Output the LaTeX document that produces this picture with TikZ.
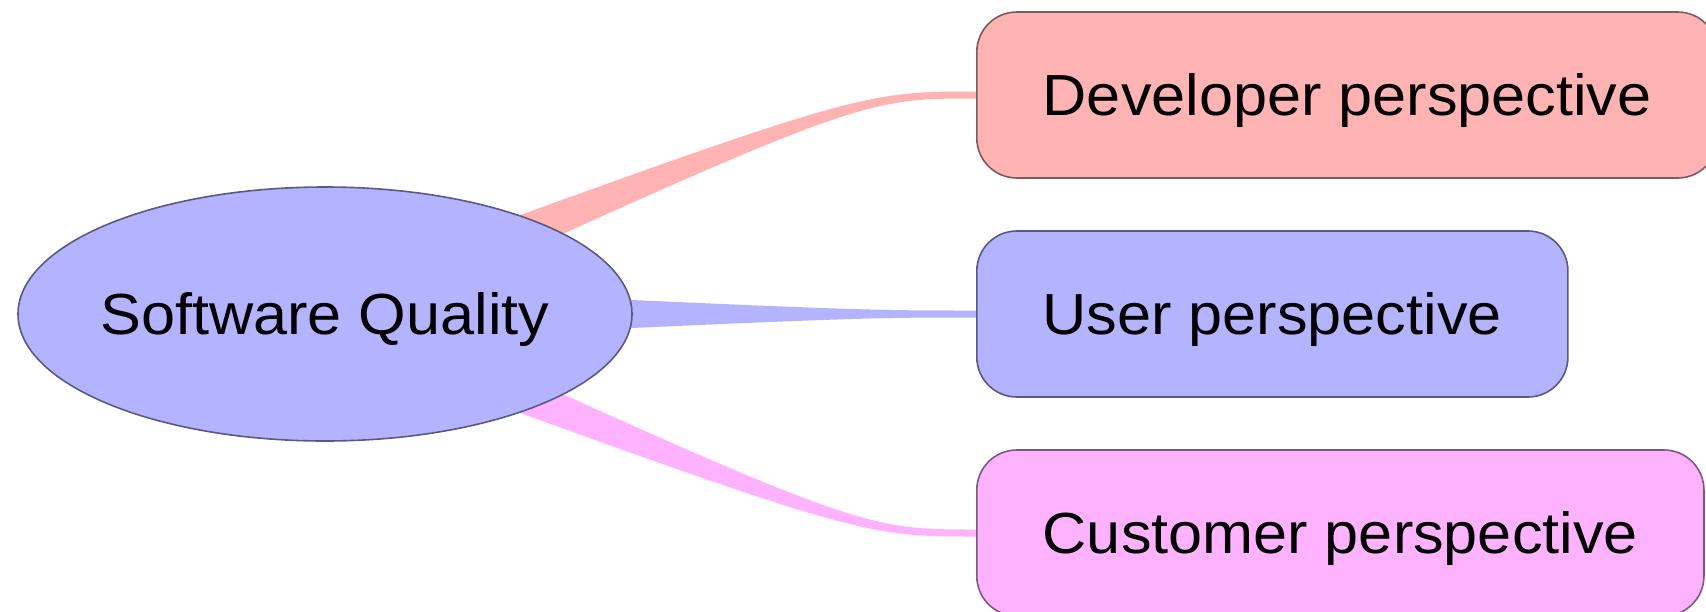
\documentclass[tikz,border=0pt]{standalone}
\usepackage{fontspec}
\setmainfont{Liberation Sans}[FakeStretch=1.055]
\usepackage{tikz}
\usepackage{xcolor}
\usetikzlibrary{shapes.geometric,backgrounds}
\definecolor{devcol}{RGB}{255,179,179}
\definecolor{usercol}{RGB}{179,179,255}
\definecolor{custcol}{RGB}{255,179,255}
\definecolor{devline}{RGB}{125,90,95}
\definecolor{userline}{RGB}{90,90,128}
\definecolor{custline}{RGB}{125,90,125}
\tikzset{
	perspective/.style={shape=rectangle, rounded corners=20pt, anchor=west, minimum height=83pt, inner xsep=33pt, text height=20.8pt, text depth=0pt, line width=0.8pt},
	topic/.style={shape=ellipse, minimum width=307pt, minimum height=127pt, inner xsep=-30pt, inner ysep=0pt, text height=20.8pt, text depth=0pt, line width=0.8pt}
}
% tapered branch from the centre of #1 to the west side of #2
\newcommand{\branch}[3]{%
	\fill[#3] ([yshift=14pt]#1.center) .. controls ([xshift=-58.5pt, yshift=1.75pt]#2.west) .. ([yshift=1.75pt]#2.west)
	-- ([yshift=-1.75pt]#2.west) .. controls ([xshift=-58.5pt, yshift=-1.75pt]#2.west) .. ([yshift=-14pt]#1.center) -- cycle;}

\begin{document}
\begin{tikzpicture}[font=\fontsize{29}{35}\selectfont]
		\useasboundingbox (0, 0) rectangle (853pt, -305.5pt);
		\node (quality) at (162.5pt, -157pt) [topic, draw=userline, fill=usercol] {Software Quality};
		\node (developer) at (488pt, -47.5pt) [perspective, draw=devline, fill=devcol] {Developer perspective};
		\node (user) at (488pt, -157pt) [perspective, draw=userline, fill=usercol] {User perspective};
		\node (customer) at (488pt, -266.5pt) [perspective, draw=custline, fill=custcol] {Customer perspective};
		\begin{scope}[on background layer]
			\branch{quality}{developer}{devcol}
			\branch{quality}{user}{usercol}
			\branch{quality}{customer}{custcol}
		\end{scope}
	\end{tikzpicture}
\end{document}
